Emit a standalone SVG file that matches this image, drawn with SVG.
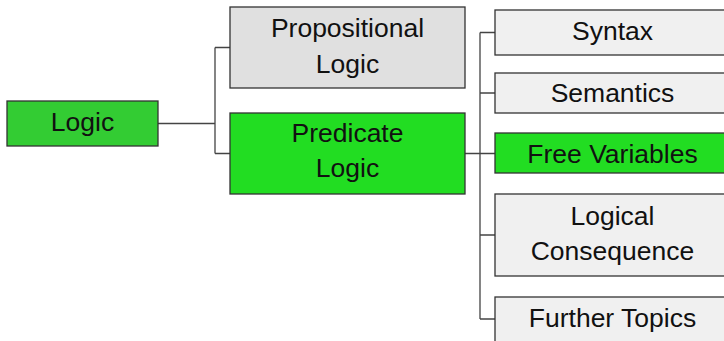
<svg xmlns="http://www.w3.org/2000/svg" width="724" height="341" viewBox="0 0 724 341">
<style>
rect{stroke:#333;stroke-width:1.3}
.g1{fill:#33cc33}
.g2{fill:#22dd22}
.l1{fill:#e0e0e0}
.l2{fill:#f0f0f0}
text{font-family:"Liberation Sans",Arial,sans-serif;font-size:26.5px;fill:#111;text-anchor:middle}
.c path{fill:none;stroke:#444;stroke-width:1.3}
</style>
<rect x="0" y="0" width="724" height="341" fill="#fff" style="stroke:none"/>
<g class="c" id="connectors">
<path d="M158,123.5 H215 M215,47.5 V153.5 M215,47.5 H230 M215,153.5 H230"/>
<path d="M465,153.5 H495 M480,32.5 V319 M480,32.5 H495 M480,93 H495 M480,235 H495 M480,319 H495"/>
</g>
<g id="n-logic"><rect class="g1" x="7" y="101" width="151" height="45"/><text x="82.5" y="131">Logic</text></g>
<g id="n-prop"><rect class="l1" x="230" y="7" width="235" height="81"/><text x="347.5" y="37">Propositional</text><text x="347.5" y="73">Logic</text></g>
<g id="n-pred"><rect class="g2" x="230" y="113" width="235" height="81"/><text x="347.5" y="142">Predicate</text><text x="347.5" y="177">Logic</text></g>
<g id="n-syntax"><rect class="l2" x="495" y="10" width="235" height="45"/><text x="612.5" y="40">Syntax</text></g>
<g id="n-sem"><rect class="l2" x="495" y="73" width="235" height="40"/><text x="612.5" y="102">Semantics</text></g>
<g id="n-free"><rect class="g2" x="495" y="133" width="235" height="40"/><text x="612.5" y="163">Free Variables</text></g>
<g id="n-cons"><rect class="l2" x="495" y="194" width="235" height="82"/><text x="612.5" y="225">Logical</text><text x="612.5" y="260">Consequence</text></g>
<g id="n-further"><rect class="l2" x="495" y="297" width="235" height="50"/><text x="612.5" y="327">Further Topics</text></g>
</svg>
